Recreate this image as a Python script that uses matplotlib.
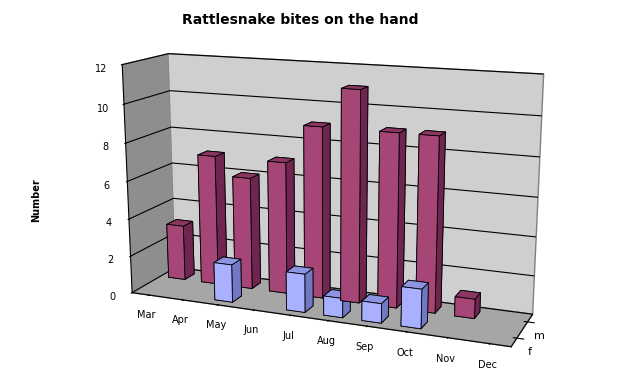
import matplotlib
matplotlib.use('Agg')
import matplotlib.pyplot as plt
import numpy as np

months = ['Mar', 'Apr', 'May', 'Jun', 'Jul', 'Aug', 'Sep', 'Oct', 'Nov', 'Dec']
series = ['f', 'm']
f_values = [0, 0, 2, 0, 2, 1, 1, 2, 0, 0]
m_values = [3, 7, 6, 7, 9, 11, 9, 9, 1, 0]
z_ticks = [0, 2, 4, 6, 8, 10, 12]

values = {'f': f_values, 'm': m_values}
# front, top, side
colors = {'f': ('#a8b0ff', '#8d94e4', '#7279c4'),
          'm': ('#a64676', '#8b3563', '#6e2550')}

fig = plt.figure(figsize=(6.22, 3.84), dpi=100)
ax = fig.add_axes([0.068, 0.035, 0.90, 0.92], projection='3d',
                  proj_type='persp', focal_length=0.6)
ax.view_init(elev=14, azim=-68)
ax.set_box_aspect((10, 2.3, 5.95), zoom=1.32)

w = 0.5
d = 0.45
for si, s in enumerate(series):
    front, top, side = colors[s]
    for k, v in enumerate(values[s]):
        if v <= 0:
            continue
        ax.bar3d(k + 0.5 - w / 2, si + 0.5 - d / 2, 0, w, d, v,
                 color=[top, top, front, front, side, side],
                 shade=False, edgecolor='black', linewidth=0.6)

ax.set_xlim(0, len(months))
ax.set_ylim(0, len(series))
ax.set_zlim(0, 12)

ax.xaxis.set_pane_color('#8e8e8e')
ax.yaxis.set_pane_color('#cfcfcf')
ax.zaxis.set_pane_color('#a6a6a6')
for a in (ax.xaxis, ax.yaxis, ax.zaxis):
    a.pane.set_edgecolor('#808080')
    a.line.set_color('black')
    a.line.set_linewidth(0.8)

ax.grid(True)
ax.xaxis._axinfo['grid']['color'] = (1, 1, 1, 0)
ax.yaxis._axinfo['grid']['color'] = (1, 1, 1, 0)
ax.zaxis._axinfo['grid']['color'] = 'black'
ax.zaxis._axinfo['grid']['linewidth'] = 0.8

ax.zaxis.set_ticks_position('lower')
ax.tick_params(axis='z', pad=-1)
ax.tick_params(axis='x', pad=0)
ax.tick_params(axis='y', pad=-4)

ax.set_xticks([k + 0.5 for k in range(len(months))])
ax.set_xticklabels(months, fontsize=7)
ax.set_yticks([0.5, 1.5])
ax.set_yticklabels(series, fontsize=8)
ax.set_zticks(z_ticks)
ax.set_zticklabels([str(t) for t in z_ticks], fontsize=7)

fig.text(0.482, 0.948, 'Rattlesnake bites on the hand', ha='center', va='center',
         fontsize=10, fontweight='bold')
fig.text(0.058, 0.479, 'Number', rotation=90, ha='center', va='center',
         fontsize=7, fontweight='bold')

fig.savefig('out.png', dpi=100)
